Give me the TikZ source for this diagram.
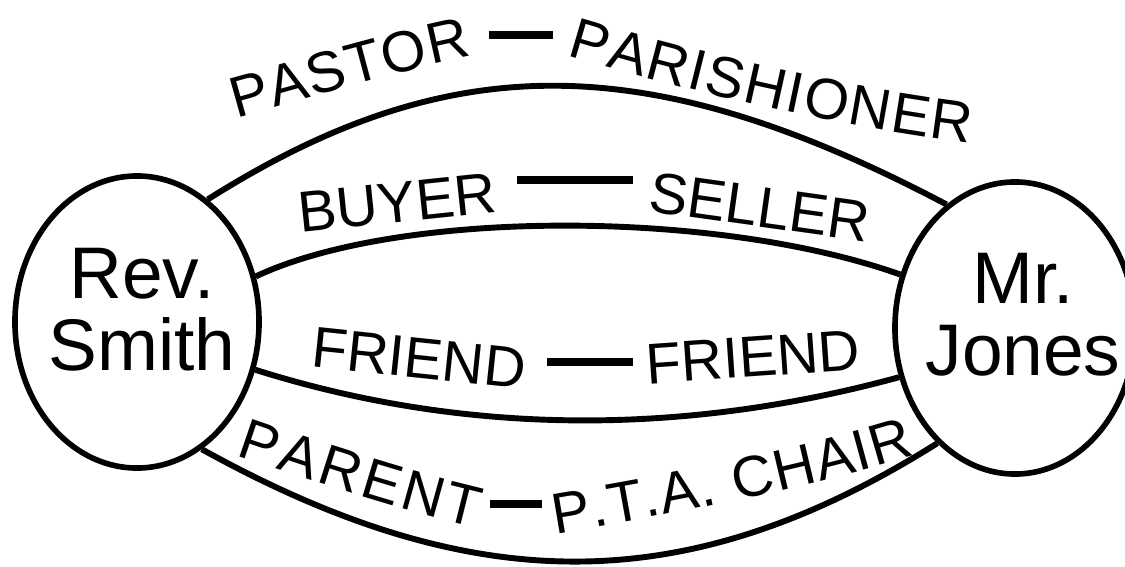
\documentclass[tikz,border=0pt]{standalone}
\usepackage{fontspec}
\setmainfont{Liberation Sans}
\usepackage{tikz}
\usetikzlibrary{shapes.geometric, decorations.text}

\newcommand{\namefont}{\fontsize{52}{51}\selectfont}
\newcommand{\tiefont}{\fontsize{41}{41}\selectfont}

\begin{document}
\begin{tikzpicture}[
    x=0.025cm, y=-0.025cm,
    person/.style={draw, ellipse, line width=4pt, minimum width=#1, minimum height=7.3cm, inner sep=0pt},
    whotext/.style={align=center, font=\namefont, inner sep=0pt},
    tie/.style={line width=4.2pt},
    word/.style={font=\tiefont, inner sep=0pt},
    bar/.style={fill, inner sep=0pt, minimum height=0.18cm, minimum width=#1},
    arched/.style={decorate, decoration={text along path, text align=fit to path, text={|\tiefont|#1}}}
]
\useasboundingbox (0,0) rectangle (1125,566);

% the two people
\node[person=6.1cm] (smith) at (137,322) {};
\node[person=6.0cm] (jones) at (1015,328) {};
\node[whotext] (smithname) at (142,310) {Rev.\\Smith};
\node[whotext] (jonesname) at (1023,315) {Mr.\\Jones};

% ties between them
\draw[tie] (smith.60) .. controls (449,47) and (648,47) .. (jones.119);
\draw[tie] (smith.21) .. controls (399,209) and (716,209) .. (jones.155);
\draw[tie] (smith.-22) .. controls (465,436) and (684,436) .. (jones.203);
\draw[tie] (smith.-63) .. controls (474,600) and (688,600) .. (jones.236);

% roles
\path[arched={PASTOR}] (236,118) .. controls (315,96) and (395,72) .. (472,56);
\node[bar=1.58cm] (pastorbar) at (521,35) {};
\path[arched={PARISHIONER}] (567,55) .. controls (690,92) and (830,125) .. (970,143);

\node[word, rotate=6] (buyer) at (397,203) {BUYER};
\node[bar=2.88cm] (buyerbar) at (575,180) {};
\node[word, rotate=-8] (seller) at (760,207) {SELLER};

\node[word, rotate=-6] (friendl) at (419,358) {FRIEND};
\node[bar=2.13cm] (friendbar) at (590,362) {};
\node[word, rotate=4] (friendr) at (753,357) {FRIEND};

\path[arched={PARENT}] (236,455) .. controls (320,484) and (400,510) .. (476,528);
\node[bar=1.3cm] (parentbar) at (516,504) {};
\path[arched={P.T.A. CHAIR}] (555,534) .. controls (670,515) and (800,490) .. (915,455);

\end{tikzpicture}
\end{document}
